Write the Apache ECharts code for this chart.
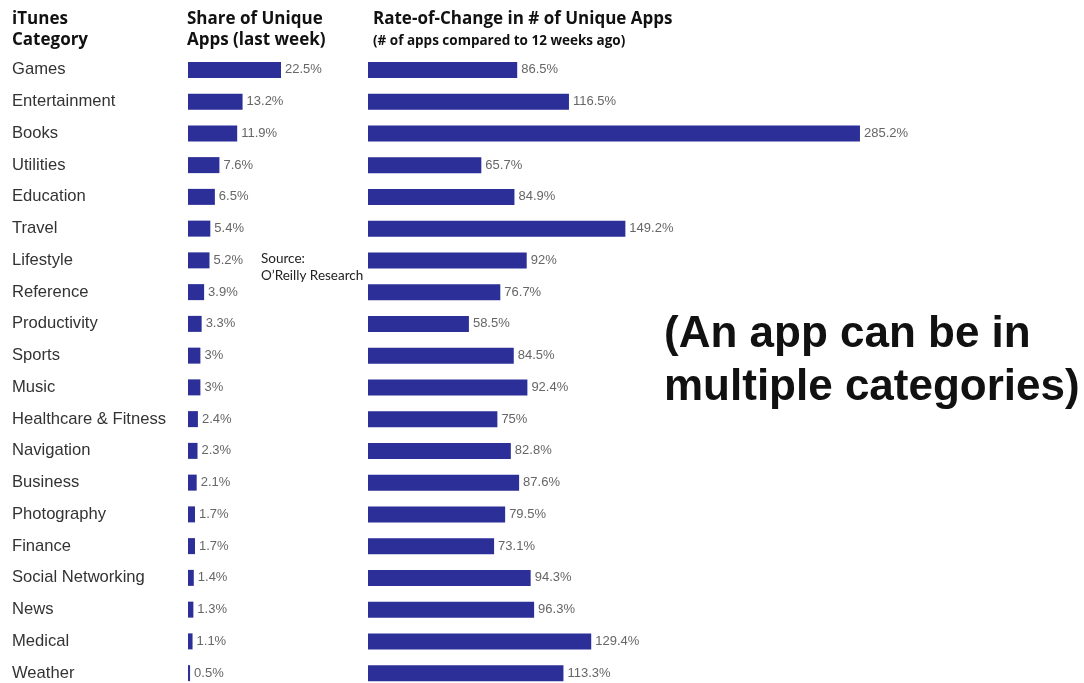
<!DOCTYPE html>
<html><head><meta charset="utf-8">
<script src="https://cdn.jsdelivr.net/npm/echarts@6/dist/echarts.min.js"></script>
<style>html,body{margin:0;padding:0;background:#fff;overflow:hidden}#c{width:1084px;height:700px}</style>
</head><body><div id="c"></div>
<script>
const categories = ["Games","Entertainment","Books","Utilities","Education","Travel","Lifestyle","Reference","Productivity","Sports","Music","Healthcare & Fitness","Navigation","Business","Photography","Finance","Social Networking","News","Medical","Weather"];
const shareValues = [22.5,13.2,11.9,7.6,6.5,5.4,5.2,3.9,3.3,3,3,2.4,2.3,2.1,1.7,1.7,1.4,1.3,1.1,0.5];
const rateValues = [86.5,116.5,285.2,65.7,84.9,149.2,92,76.7,58.5,84.5,92.4,75,82.8,87.6,79.5,73.1,94.3,96.3,129.4,113.3];

const BAR = '#2b2f97';
const chart = echarts.init(document.getElementById('c'), null, {renderer:'canvas'});
const lbl = {show:true, position:'right', distance:4, color:'#666', fontSize:13, fontFamily:'Liberation Sans, Arial', formatter: p => p.value + '%'};
const hdr = {fontFamily:'Open Sans', fontWeight:'bold', fontSize:17, fill:'#111', lineHeight:21};
chart.setOption({
  animation:false,
  grid:[
    {left:188, top:54, width:124, height:635},
    {left:368, top:54, width:517.5, height:635}
  ],
  xAxis:[
    {gridIndex:0, type:'value', min:0, max:30, show:false},
    {gridIndex:1, type:'value', min:0, max:300, show:false}
  ],
  yAxis:[
    {gridIndex:0, type:'category', data:categories, inverse:true,
     axisLine:{show:false}, axisTick:{show:false}, splitLine:{show:false},
     axisLabel:{align:'left', margin:176, color:'#333', fontSize:16.6, fontFamily:'Liberation Sans, Arial'}},
    {gridIndex:1, type:'category', data:categories, inverse:true, show:false}
  ],
  series:[
    {type:'bar', xAxisIndex:0, yAxisIndex:0, data:shareValues, barWidth:16, itemStyle:{color:BAR}, label:lbl},
    {type:'bar', xAxisIndex:1, yAxisIndex:1, data:rateValues, barWidth:16, itemStyle:{color:BAR}, label:lbl}
  ],
  graphic:[
    {type:'text', left:12, top:9, style:Object.assign({text:'iTunes\nCategory'}, hdr)},
    {type:'text', left:187, top:9, style:Object.assign({text:'Share of Unique\nApps (last week)'}, hdr)},
    {type:'text', left:373, top:9, style:Object.assign({text:'Rate-of-Change in # of Unique Apps'}, hdr)},
    {type:'text', left:373, top:34, style:{text:'(# of apps compared to 12 weeks ago)', fontFamily:'Open Sans', fontWeight:'bold', fontSize:13.5, fill:'#111'}},
    {type:'text', left:261, top:250, style:{text:'Source:\nO\u2019Reilly Research', fontFamily:'Lato', fontSize:13.5, lineHeight:17, fill:'#222'}},
    {type:'text', left:664, top:308, style:{text:'(An app can be in\nmultiple categories)', fontFamily:'Liberation Sans, Arial', fontWeight:'bold', fontSize:44, lineHeight:53, fill:'#111'}}
  ]
});
</script></body></html>
